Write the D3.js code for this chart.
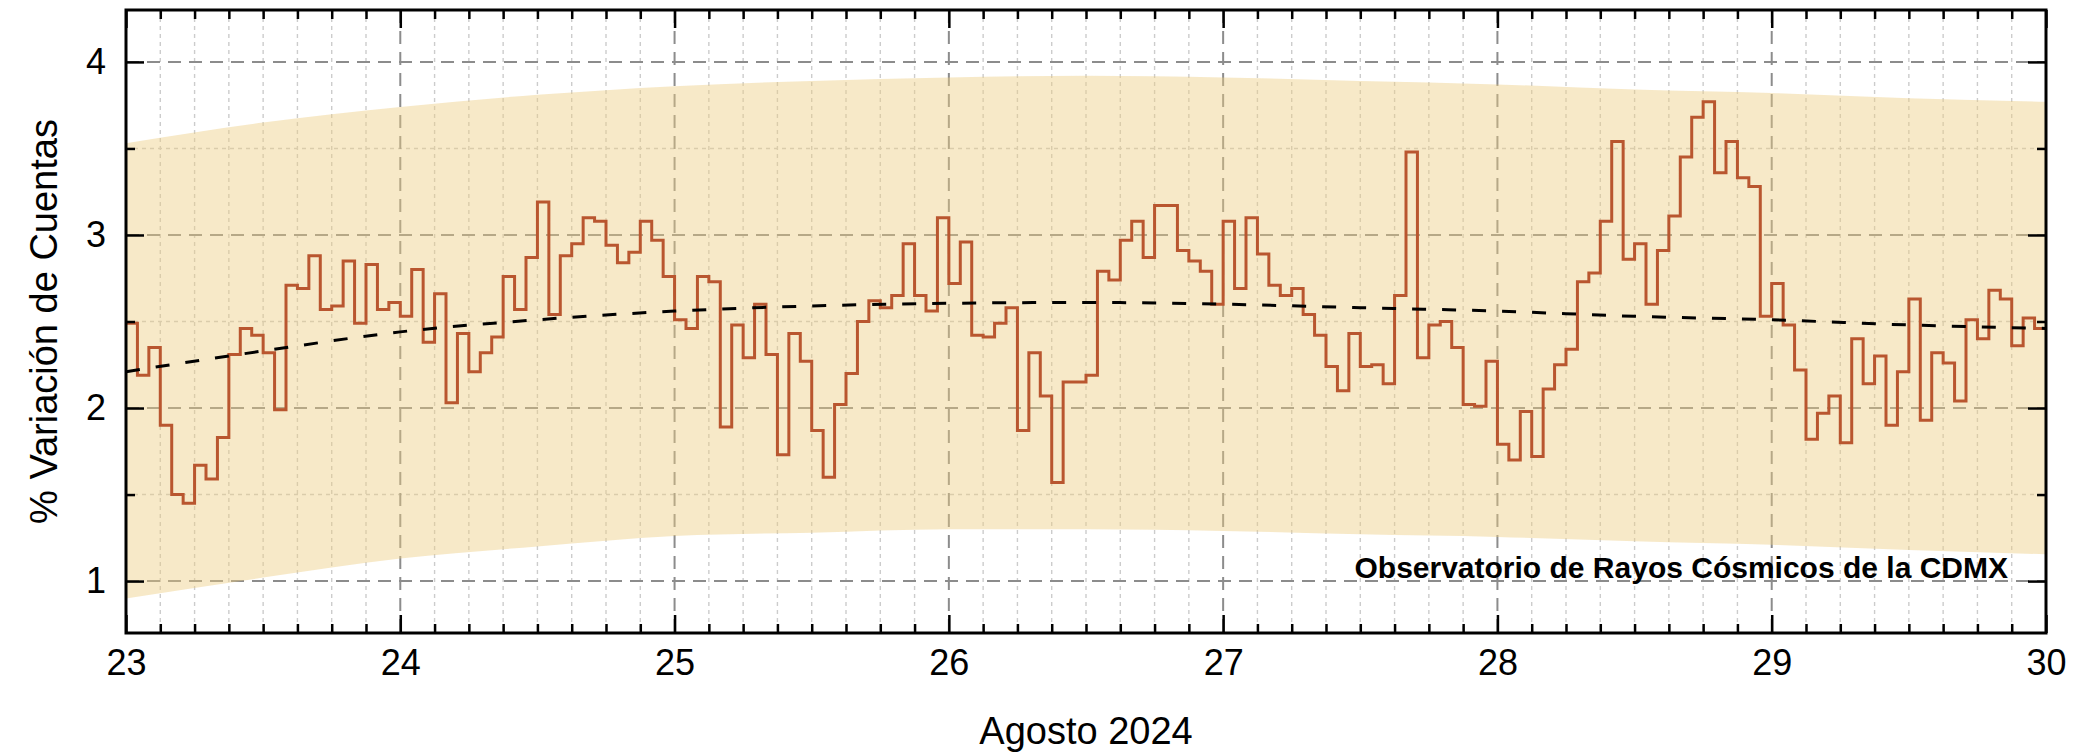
<!DOCTYPE html>
<html>
<head>
<meta charset="utf-8">
<script src="https://cdn.jsdelivr.net/npm/d3@7"></script>
<style>
  html, body { margin: 0; padding: 0; background: #ffffff; }
  svg { display: block; }
  text { font-family: "Liberation Sans", Arial, Helvetica, sans-serif; fill: #000; }
</style>
</head>
<body>
<svg id="chart" width="2081" height="754"></svg>
<script>
// Hourly cosmic-ray count variation (%), one array per day of August 2024
const aug23 = [2.49,2.19,2.35,1.90,1.50,1.45,1.67,1.59,1.83,2.31,2.46,2.42,2.32,1.99,2.71,2.69,2.88,2.57,2.59,2.85,2.49,2.83,2.57,2.61];
const aug24 = [2.53,2.80,2.38,2.66,2.03,2.43,2.21,2.32,2.41,2.76,2.57,2.87,3.19,2.54,2.88,2.95,3.10,3.08,2.94,2.84,2.90,3.08,2.97,2.76];
const aug25 = [2.51,2.46,2.76,2.73,1.89,2.48,2.29,2.60,2.31,1.73,2.43,2.27,1.87,1.60,2.02,2.20,2.50,2.62,2.58,2.65,2.95,2.65,2.56,3.10];
const aug26 = [2.72,2.96,2.42,2.41,2.49,2.58,1.87,2.32,2.07,1.57,2.15,2.15,2.19,2.79,2.74,2.97,3.08,2.87,3.17,3.17,2.91,2.85,2.79,2.60];
const aug27 = [3.08,2.69,3.10,2.89,2.71,2.65,2.69,2.54,2.42,2.24,2.10,2.43,2.24,2.25,2.14,2.65,3.48,2.29,2.48,2.50,2.35,2.02,2.01,2.27];
const aug28 = [1.79,1.70,1.98,1.72,2.11,2.25,2.34,2.73,2.78,3.08,3.54,2.86,2.95,2.60,2.91,3.11,3.45,3.68,3.77,3.36,3.54,3.33,3.28,2.53];
const aug29 = [2.72,2.48,2.22,1.82,1.97,2.07,1.80,2.40,2.14,2.30,1.90,2.21,2.63,1.93,2.32,2.26,2.04,2.51,2.40,2.68,2.63,2.36,2.52,2.46];

// Smoothed trend and its envelope, sampled every 12 hours from Aug 23 00:00
const trend     = [2.21,2.33,2.44,2.51,2.56,2.59,2.605,2.61,2.60,2.58,2.56,2.53,2.51,2.48,2.46];
const bandUpper = [3.53,3.65,3.74,3.81,3.86,3.89,3.91,3.92,3.91,3.89,3.87,3.84,3.82,3.79,3.77];
const bandLower = [0.90,1.02,1.13,1.20,1.26,1.28,1.30,1.30,1.29,1.27,1.255,1.23,1.21,1.18,1.155];

const dayTickLabels = ["23","24","25","26","27","28","29","30"];
const yTickValues   = [1, 2, 3, 4];
const yMinorValues  = [1.5, 2.5, 3.5];

const yTitle = "% Variación de Cuentas";
const xTitle = "Agosto 2024";
const credit = "Observatorio de Rayos Cósmicos de la CDMX";

// ---- layout ----
const W = 2081, H = 754;
const plot = { left: 126, right: 2046, top: 10, bottom: 633 };

const start = new Date(Date.UTC(2024, 7, 23, 0));
const end   = new Date(Date.UTC(2024, 7, 30, 0));
const hourMs = 3600 * 1000;

const x = d3.scaleUtc().domain([start, end]).range([plot.left, plot.right]);
const y = d3.scaleLinear().domain([0.7, 4.3]).range([plot.bottom, plot.top]);

const svg = d3.select("#chart");
svg.append("rect").attr("width", W).attr("height", H).attr("fill", "#ffffff");

svg.append("defs").append("clipPath").attr("id", "plotClip")
  .append("rect")
  .attr("x", plot.left).attr("y", plot.top)
  .attr("width", plot.right - plot.left).attr("height", plot.bottom - plot.top);

// ---- series ----
const hourly = [].concat(aug23, aug24, aug25, aug26, aug27, aug28, aug29);
const stepPts = hourly.map((v, i) => ({ t: new Date(start.getTime() + i * hourMs), v }));
stepPts.push({ t: end, v: hourly[hourly.length - 1] });

const smoothPts = trend.map((v, i) => ({
  t: new Date(start.getTime() + i * 12 * hourMs),
  v, lo: bandLower[i], hi: bandUpper[i]
}));

const days  = d3.utcDay.range(start, d3.utcDay.offset(end, 1));
const minorX = d3.utcHour.every(3).range(start, d3.utcHour.offset(end, 1)).filter(d => d.getUTCHours() !== 0);

// ---- grid ----
const grid = svg.append("g").attr("clip-path", "url(#plotClip)");
grid.selectAll(".vminor").data(minorX).join("line")
  .attr("x1", d => x(d)).attr("x2", d => x(d))
  .attr("y1", plot.top).attr("y2", plot.bottom)
  .attr("stroke", "#cccccc").attr("stroke-width", 1.4).attr("stroke-dasharray", "4,4");
grid.selectAll(".hminor").data(yMinorValues).join("line")
  .attr("x1", plot.left).attr("x2", plot.right)
  .attr("y1", d => y(d)).attr("y2", d => y(d))
  .attr("stroke", "#cccccc").attr("stroke-width", 1.4).attr("stroke-dasharray", "4,4");
grid.selectAll(".vmajor").data(days).join("line")
  .attr("x1", d => x(d)).attr("x2", d => x(d))
  .attr("y1", plot.top).attr("y2", plot.bottom)
  .attr("stroke", "#8c8c8c").attr("stroke-width", 2).attr("stroke-dasharray", "13,8");
grid.selectAll(".hmajor").data(yTickValues).join("line")
  .attr("x1", plot.left).attr("x2", plot.right)
  .attr("y1", d => y(d)).attr("y2", d => y(d))
  .attr("stroke", "#8c8c8c").attr("stroke-width", 2).attr("stroke-dasharray", "13,8");

// ---- envelope band ----
const area = d3.area()
  .x(d => x(d.t)).y0(d => y(d.lo)).y1(d => y(d.hi))
  .curve(d3.curveMonotoneX);
svg.append("path").datum(smoothPts)
  .attr("clip-path", "url(#plotClip)")
  .attr("d", area)
  .attr("fill", "rgb(236,204,130)").attr("fill-opacity", 0.44);

// ---- hourly step series ----
const stepLine = d3.line().x(d => x(d.t)).y(d => y(d.v)).curve(d3.curveStepAfter);
svg.append("path").datum(stepPts)
  .attr("clip-path", "url(#plotClip)")
  .attr("d", stepLine)
  .attr("fill", "none").attr("stroke", "#b9562f").attr("stroke-width", 3)
  .attr("stroke-linejoin", "miter");

// ---- trend ----
const trendLine = d3.line().x(d => x(d.t)).y(d => y(d.v)).curve(d3.curveMonotoneX);
svg.append("path").datum(smoothPts)
  .attr("clip-path", "url(#plotClip)")
  .attr("d", trendLine)
  .attr("fill", "none").attr("stroke", "#000").attr("stroke-width", 3)
  .attr("stroke-dasharray", "14,16");

// ---- axes (inward ticks, mirrored) ----
function styleAxis(g) {
  g.select(".domain").remove();
  g.selectAll(".tick line").attr("stroke", "#000").attr("stroke-width", 2.5);
}

const labelSize = 36;

// bottom: major day ticks with labels
svg.append("g").attr("transform", `translate(0,${plot.bottom})`)
  .call(d3.axisBottom(x).tickValues(days).tickSize(-18).tickPadding(16)
    .tickFormat((d, i) => dayTickLabels[i]))
  .call(styleAxis)
  .call(g => g.selectAll(".tick text").attr("font-size", labelSize)
    .style("font-family", '"Liberation Sans", Arial, sans-serif'));
// bottom: minor ticks
svg.append("g").attr("transform", `translate(0,${plot.bottom})`)
  .call(d3.axisBottom(x).tickValues(minorX).tickSize(-9).tickFormat(""))
  .call(styleAxis);
// top mirror
svg.append("g").attr("transform", `translate(0,${plot.top})`)
  .call(d3.axisTop(x).tickValues(days).tickSize(-18).tickFormat(""))
  .call(styleAxis);
svg.append("g").attr("transform", `translate(0,${plot.top})`)
  .call(d3.axisTop(x).tickValues(minorX).tickSize(-9).tickFormat(""))
  .call(styleAxis);

// left: major with labels, minor
svg.append("g").attr("transform", `translate(${plot.left},0)`)
  .call(d3.axisLeft(y).tickValues(yTickValues).tickSize(-18).tickPadding(20)
    .tickFormat(d3.format("d")))
  .call(styleAxis)
  .call(g => g.selectAll(".tick text").attr("font-size", labelSize)
    .style("font-family", '"Liberation Sans", Arial, sans-serif'));
svg.append("g").attr("transform", `translate(${plot.left},0)`)
  .call(d3.axisLeft(y).tickValues(yMinorValues).tickSize(-9).tickFormat(""))
  .call(styleAxis);
// right mirror
svg.append("g").attr("transform", `translate(${plot.right},0)`)
  .call(d3.axisRight(y).tickValues(yTickValues).tickSize(-18).tickFormat(""))
  .call(styleAxis);
svg.append("g").attr("transform", `translate(${plot.right},0)`)
  .call(d3.axisRight(y).tickValues(yMinorValues).tickSize(-9).tickFormat(""))
  .call(styleAxis);

// frame
svg.append("rect")
  .attr("x", plot.left).attr("y", plot.top)
  .attr("width", plot.right - plot.left).attr("height", plot.bottom - plot.top)
  .attr("fill", "none").attr("stroke", "#000").attr("stroke-width", 3);

// ---- titles ----
svg.append("text")
  .attr("transform", `translate(57,${(plot.top + plot.bottom) / 2}) rotate(-90)`)
  .attr("text-anchor", "middle")
  .attr("font-size", 38)
  .text(yTitle);

svg.append("text")
  .attr("x", (plot.left + plot.right) / 2).attr("y", 744)
  .attr("text-anchor", "middle")
  .attr("font-size", 38)
  .text(xTitle);

svg.append("text")
  .attr("x", 2008).attr("y", 578)
  .attr("text-anchor", "end")
  .attr("font-size", 30).attr("font-weight", "bold")
  .text(credit);
</script>
</body>
</html>
